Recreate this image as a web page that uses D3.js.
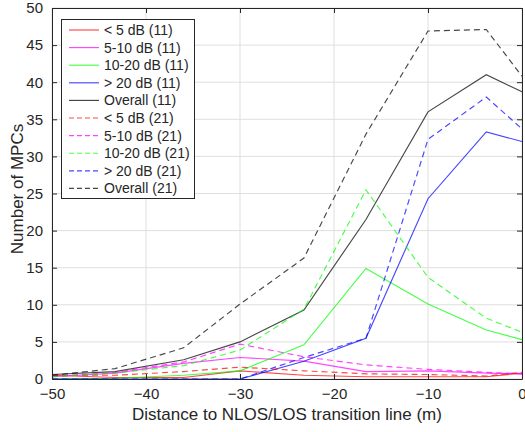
<!DOCTYPE html>
<html>
<head>
<meta charset="utf-8">
<script src="https://cdn.jsdelivr.net/npm/d3@7/dist/d3.min.js"></script>
<style>
  body { margin: 0; background: #fff; }
  svg { display: block; font-family: "Liberation Sans", Arial, sans-serif; }
</style>
</head>
<body>
<svg id="chart" width="525" height="432"></svg>
<script>
// Distance to the NLOS/LOS transition line (m)
const distances = [-50, -43.3, -36, -30, -23.2, -16.6, -10, -3.8, 0];

// Number of MPCs per power class, scenario (11)
const below5_11   = [0.5, 0.2, 0.2, 1.1, 0.5, 0.3, 0.3, 0.3, 0.8];
const from5to10_11 = [0.3, 0.8, 2.1, 2.9, 2.4, 1.0, 1.1, 0.8, 0.7];
const from10to20_11 = [0.0, 0.1, 0.5, 1.1, 4.6, 14.9, 10.1, 6.6, 5.3];
const above20_11  = [0.0, 0.0, 0.0, 0.0, 2.4, 5.5, 24.3, 33.3, 32.0];
const overall_11  = [0.6, 1.0, 2.6, 5.0, 9.3, 21.5, 36.0, 41.0, 38.7];

// Number of MPCs per power class, scenario (21)
const below5_21   = [0.5, 0.5, 1.0, 1.6, 1.1, 0.7, 0.6, 0.4, 0.9];
const from5to10_21 = [0.3, 0.9, 2.3, 4.7, 3.0, 1.9, 1.3, 0.9, 0.7];
const from10to20_21 = [0.3, 0.8, 1.8, 3.9, 9.4, 25.5, 13.7, 8.2, 6.3];
const above20_21  = [0.0, 0.0, 0.0, 0.0, 2.9, 5.5, 32.3, 38.0, 33.7];
const overall_21  = [0.5, 1.4, 4.2, 10.1, 16.3, 33.0, 46.9, 47.1, 40.8];

const seriesLabels = [
  "< 5 dB (11)", "5-10 dB (11)", "10-20 dB (11)", "> 20 dB (11)", "Overall (11)",
  "< 5 dB (21)", "5-10 dB (21)", "10-20 dB (21)", "> 20 dB (21)", "Overall (21)"
];
const seriesColors = ["#ff0000", "#ff00ff", "#00ff00", "#0000ff", "#000000",
                      "#ff0000", "#ff00ff", "#00ff00", "#0000ff", "#000000"];
const seriesDashed = [false, false, false, false, false, true, true, true, true, true];
const seriesValues = [below5_11, from5to10_11, from10to20_11, above20_11, overall_11,
                      below5_21, from5to10_21, from10to20_21, above20_21, overall_21];

const xTicks = [-50, -40, -30, -20, -10, 0];
const yTicks = [0, 5, 10, 15, 20, 25, 30, 35, 40, 45, 50];

const svg = d3.select("#chart");
const mLeft = 52, mRight = 522, mTop = 8, mBottom = 379;
const axisColor = "#262626";

const x = d3.scaleLinear().domain([-50, 0]).range([mLeft, mRight]);
const y = d3.scaleLinear().domain([0, 50]).range([mBottom, mTop]);

// grid
const grid = svg.append("g");
grid.selectAll("line.gx").data(xTicks).join("line")
  .attr("x1", d => x(d)).attr("x2", d => x(d))
  .attr("y1", mTop).attr("y2", mBottom)
  .attr("stroke", "#dfdfdf").attr("stroke-width", 1);
grid.selectAll("line.gy").data(yTicks).join("line")
  .attr("x1", mLeft).attr("x2", mRight)
  .attr("y1", d => y(d)).attr("y2", d => y(d))
  .attr("stroke", "#dfdfdf").attr("stroke-width", 1);

// series
const plot = svg.append("g");
const line = d3.line().x((d, i) => x(distances[i])).y(d => y(d));
seriesValues.forEach((vals, k) => {
  plot.append("path")
    .datum(vals)
    .attr("d", line)
    .attr("fill", "none")
    .attr("stroke", seriesColors[k])
    .attr("stroke-opacity", 0.72)
    .attr("stroke-width", 1.15)
    .attr("stroke-dasharray", seriesDashed[k] ? "6,4" : null);
});

// axes (box with inward ticks on all four sides)
const tickLen = 5;
const xAxisB = d3.axisBottom(x).tickValues(xTicks).tickSizeInner(-tickLen).tickSizeOuter(0).tickPadding(9).tickFormat(d3.format("d"));
const xAxisT = d3.axisTop(x).tickValues(xTicks).tickSizeInner(-tickLen).tickSizeOuter(0).tickFormat("");
const yAxisL = d3.axisLeft(y).tickValues(yTicks).tickSizeInner(-tickLen).tickSizeOuter(0).tickPadding(9).tickFormat(d3.format("d"));
const yAxisR = d3.axisRight(y).tickValues(yTicks).tickSizeInner(-tickLen).tickSizeOuter(0).tickFormat("");

function styleAxis(g) {
  g.select(".domain").attr("stroke", axisColor);
  g.selectAll(".tick line").attr("stroke", axisColor);
  g.selectAll(".tick text").attr("fill", axisColor).attr("font-size", 15)
    .attr("font-family", "'Liberation Sans', Arial, sans-serif");
}
svg.append("g").attr("transform", `translate(0,${mBottom})`).call(xAxisB).call(styleAxis);
svg.append("g").attr("transform", `translate(0,${mTop})`).call(xAxisT).call(styleAxis);
svg.append("g").attr("transform", `translate(${mLeft},0)`).call(yAxisL).call(styleAxis);
svg.append("g").attr("transform", `translate(${mRight},0)`).call(yAxisR).call(styleAxis);

// axis titles
svg.append("text")
  .attr("x", 287).attr("y", 420)
  .attr("text-anchor", "middle").attr("font-size", 17).attr("fill", axisColor)
  .text("Distance to NLOS/LOS transition line (m)");
svg.append("text")
  .attr("transform", `translate(23,189) rotate(-90)`)
  .attr("text-anchor", "middle").attr("font-size", 17).attr("fill", axisColor)
  .text("Number of MPCs");

// legend
const lg = svg.append("g");
const lgX = 61, lgY = 19, lgW = 133, rowH = 17.6;
lg.append("rect")
  .attr("x", lgX + 0.5).attr("y", lgY + 0.5)
  .attr("width", lgW).attr("height", rowH * seriesLabels.length + 3)
  .attr("fill", "#fff").attr("stroke", axisColor).attr("stroke-width", 1);
seriesLabels.forEach((lab, k) => {
  const cy = lgY + 11 + k * rowH;
  lg.append("line")
    .attr("x1", lgX + 8).attr("x2", lgX + 38)
    .attr("y1", cy).attr("y2", cy)
    .attr("stroke", seriesColors[k]).attr("stroke-opacity", 0.72)
    .attr("stroke-width", 1.15)
    .attr("stroke-dasharray", seriesDashed[k] ? "5,3" : null);
  lg.append("text")
    .attr("x", lgX + 43).attr("y", cy + 5)
    .attr("font-size", 14).attr("fill", axisColor)
    .text(lab);
});
</script>
</body>
</html>
